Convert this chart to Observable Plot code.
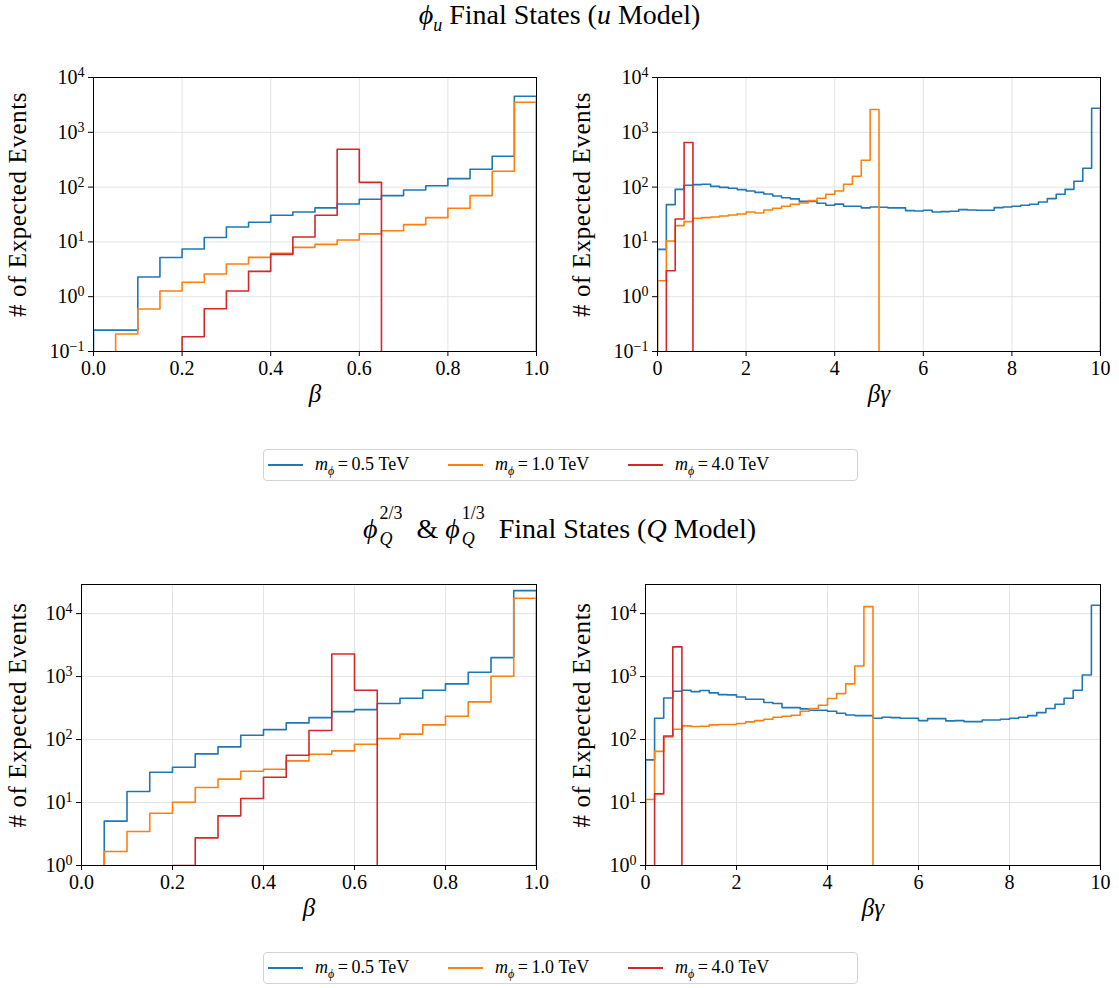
<!DOCTYPE html>
<html><head><meta charset="utf-8">
<script src="https://cdn.jsdelivr.net/npm/d3@7"></script>
<script src="https://cdn.jsdelivr.net/npm/@observablehq/plot@0.6"></script>
<style>
body{margin:0;background:#fff;}
#root{position:relative;width:1119px;height:988px;font-family:"Liberation Serif","DejaVu Serif",serif;color:#000;overflow:hidden;}
#root svg text{font-family:"Liberation Serif","DejaVu Serif",serif !important;}
.title{position:absolute;left:0;width:1119px;text-align:center;font-size:28px;line-height:30px;}
.title sub{font-size:18px;}
.panel{position:absolute;width:550px;}
.legend{position:absolute;left:263px;width:595px;height:32px;border:1px solid #d3d3d3;border-radius:4px;box-sizing:border-box;background:#fff;}
.legend .sw{position:absolute;top:14px;width:35px;height:2px;}
.legend .lt{position:absolute;top:4px;font-size:18px;line-height:20px;white-space:nowrap;}
.legend sub{font-size:12px;}
.ss{display:inline-block;position:relative;width:32px;height:1em;}
.ss .sp{position:absolute;left:2px;top:-12px;font-size:18px;}
.ss .sb{position:absolute;left:2px;top:14px;font-size:18px;font-style:italic;}
[aria-label="x-axis label"] text{font-style:italic;font-size:25px;}
[aria-label="y-axis label"] text{font-size:25px;letter-spacing:0.6px;}
</style>
</head><body><div id="root"></div>
<script>
// ---- bin edges ----
const betaEdges = [0,0.05,0.1,0.15,0.2,0.25,0.3,0.35,0.4,0.45,0.5,0.55,0.6,0.65,0.7,0.75,0.8,0.85,0.9,0.95,1.0];
const bgEdges = [0,0.2,0.4,0.6,0.8,1,1.2,1.4,1.6,1.8,2,2.2,2.4,2.6,2.8,3,3.2,3.4,3.6,3.8,4,4.2,4.4,4.6,4.8,5,5.2,5.4,5.6,5.8,6,6.2,6.4,6.6,6.8,7,7.2,7.4,7.6,7.8,8,8.2,8.4,8.6,8.8,9,9.2,9.4,9.6,9.8,10];

// ---- u model, beta ----
const uBetaM05 = [0.246,0.246,2.29,5.2,7.4,12,18.7,22.8,30.6,35.2,41.7,49.2,60,70,88.8,106,143,212,366,4560];
const uBetaM10 = [0,0.208,0.595,1.27,1.83,2.59,3.95,5.23,6.18,7.96,9.03,10.8,14,16,20.7,27.7,41,70,195,3540];
const uBetaM40 = [0,0,0,0,0.186,0.604,1.27,2.9,5.93,12.3,30.6,491,122,0,0,0,0,0,0,0];
// ---- u model, beta*gamma ----
const uBgM05 = [7.3,47.9,91,108,111,113,103,99,95,90,85,80,75,69,64,61,55,55,50.7,46.6,49,44.7,44.7,41.7,43.4,42.8,41.7,41.7,37.2,36.7,37.8,35.2,35.7,36.2,38.8,38.3,37.8,37.8,42.2,43.4,44.7,46.6,48.6,53.6,61.7,74,91,128,221,2755];
const uBgM10 = [1.96,10.4,19.8,23.4,27,27.7,28.5,29.7,31,32.3,35.2,33.7,38.3,41,44.7,48.6,51.4,56.6,62.5,74,85,113,158,309,2605,0,0,0,0,0,0,0,0,0,0,0,0,0,0,0,0,0,0,0,0,0,0,0,0,0];
const uBgM40 = [0,2.98,26.2,650,0,0,0,0,0,0,0,0,0,0,0,0,0,0,0,0,0,0,0,0,0,0,0,0,0,0,0,0,0,0,0,0,0,0,0,0,0,0,0,0,0,0,0,0,0,0];
// ---- Q model, beta ----
const qBetaM05 = [0,5.06,15,30.3,36.4,59.2,76.5,117,144,184,223,278,299,373,453,607,765,1172,2004,23200];
const qBetaM10 = [0,1.67,3.47,6.77,10.1,17.3,23.5,31.4,33.8,45.8,58.5,66,84.3,104,122,171,235,396,1012,17500];
const qBetaM40 = [0,0,0,0,1.0,2.75,6.14,11.6,25.2,56.4,139,2290,607,0,0,0,0,0,0,0];
// ---- Q model, beta*gamma ----
const qBgM05 = [47.5,218,458,585,607,578,600,551,518,512,475,436,436,387,373,322,322,307,292,292,282,262,246,240,240,218,226,223,218,218,200,215,215,198,200,193,193,205,205,210,218,226,240,268,311,364,453,607,1062,13550];
const qBgM10 = [11.2,65,110,146,165,161,163,171,173,173,180,191,200,210,226,235,243,282,311,351,448,537,765,1476,12900,0,0,0,0,0,0,0,0,0,0,0,0,0,0,0,0,0,0,0,0,0,0,0,0,0];
const qBgM40 = [0,13.7,114,2960,0,0,0,0,0,0,0,0,0,0,0,0,0,0,0,0,0,0,0,0,0,0,0,0,0,0,0,0,0,0,0,0,0,0,0,0,0,0,0,0,0,0,0,0,0,0];

// ---- labels / ticks ----
const massLabels = ["0.5","1.0","4.0"];
const colors = ["#1f77b4","#ff7f0e","#d62728"];
const betaTicks = [0,0.2,0.4,0.6,0.8,1.0];
const bgTicks = [0,2,4,6,8,10];
const yTicksTop = [0.1,1,10,100,1000,10000];
const yTicksBottom = [1,10,100,1000,10000];
const yDomainTop = [0.1,10000];
const yDomainBottom = [1,29000];
const yLabel = "# of Expected Events";

const FLOOR = 1e-4; // zero bins drawn below the frame (clipped), like matplotlib

function stepPoints(edges, vals) {
  const v = vals.map(d => d > 0 ? d : FLOOR);
  const pts = [{x: edges[0], y: FLOOR}];
  for (let i = 0; i < v.length; i++) pts.push({x: edges[i], y: v[i]});
  pts.push({x: edges[edges.length-1], y: v[v.length-1]});
  pts.push({x: edges[edges.length-1], y: FLOOR});
  return pts;
}

function makePanel({edges, series, yDomain, yTicks, xTicks, xFmt, xLabel, marginLeft, marginTop, frameH}) {
  const svg = Plot.plot({
    width: 550, height: marginTop + frameH + 60,
    marginLeft, marginRight: 14, marginTop, marginBottom: 60,
    style: {fontFamily: "Liberation Serif, DejaVu Serif, serif", fontSize: "20px", background: "transparent", overflow: "visible", color: "#000"},
    x: {domain: [edges[0], edges[edges.length-1]]},
    y: {type: "log", domain: yDomain},
    marks: [
      Plot.gridX(xTicks, {stroke: "#e3e3e3", strokeOpacity: 1, strokeWidth: 1}),
      Plot.gridY(yTicks, {stroke: "#e3e3e3", strokeOpacity: 1, strokeWidth: 1}),
      ...series.map((vals, i) => Plot.line(stepPoints(edges, vals), {x: "x", y: "y", curve: "step-after", stroke: colors[i], strokeWidth: 1.6, clip: true})),
      Plot.frame({stroke: "#000", strokeWidth: 1}),
      Plot.axisX({ticks: xTicks, tickFormat: xFmt, tickSize: 5, tickPadding: 4, fontSize: 20, label: xLabel, labelAnchor: "center", labelArrow: "none", labelOffset: 50}),
      Plot.axisY({ticks: yTicks, tickFormat: d => { const e = Math.round(Math.log10(d)); return e < 0 ? "\u2212" + (-e) : String(e); }, tickSize: 5, tickPadding: 4, fontSize: 20, label: yLabel, labelAnchor: "center", labelArrow: "none", labelOffset: marginLeft - 8})
    ]
  });
  const ns = "http://www.w3.org/2000/svg";
  svg.querySelectorAll('[aria-label="y-axis tick label"] text').forEach(t => {
    const e = t.textContent;
    t.textContent = "10";
    const ts = document.createElementNS(ns, "tspan");
    ts.setAttribute("dy", "-0.5em");
    ts.setAttribute("font-size", "14");
    ts.textContent = e;
    t.appendChild(ts);
  });
  const yl = svg.querySelector('[aria-label="y-axis label"]');
  if (yl) yl.setAttribute("transform", "translate(0,-10) " + (yl.getAttribute("transform") || ""));
  return svg;
}

const root = document.getElementById("root");
function place(el, left, top) {
  const d = document.createElement("div");
  d.className = "panel";
  d.style.left = left + "px"; d.style.top = top + "px";
  d.appendChild(el); root.appendChild(d);
}
function addTitle(html, top) {
  const d = document.createElement("div");
  d.className = "title"; d.style.top = top + "px"; d.innerHTML = html; root.appendChild(d);
}
function addLegend(top) {
  const d = document.createElement("div");
  d.className = "legend"; d.style.top = top + "px";
  massLabels.forEach((m, i) => {
    const sw = document.createElement("div");
    sw.className = "sw"; sw.style.left = (4 + 180*i) + "px"; sw.style.background = colors[i];
    d.appendChild(sw);
    const lt = document.createElement("div");
    lt.className = "lt"; lt.style.left = (51 + 180*i) + "px";
    lt.innerHTML = `<i>m</i><sub><i>ϕ</i></sub>&thinsp;=&thinsp;${m} TeV`;
    d.appendChild(lt);
  });
  root.appendChild(d);
}

const fmt1 = d3.format(".1f");
addTitle(`<i>ϕ</i><sub><i>u</i></sub> Final States (<i>u</i> Model)`, 0);
place(makePanel({edges: betaEdges, series: [uBetaM05, uBetaM10, uBetaM40], yDomain: yDomainTop, yTicks: yTicksTop, xTicks: betaTicks, xFmt: fmt1, xLabel: "β", marginLeft: 93, marginTop: 17, frameH: 274}), 0, 60);
place(makePanel({edges: bgEdges, series: [uBgM05, uBgM10, uBgM40], yDomain: yDomainTop, yTicks: yTicksTop, xTicks: bgTicks, xFmt: d => String(d), xLabel: "βγ", marginLeft: 93, marginTop: 17, frameH: 274}), 564, 60);
addLegend(449);
addTitle(`<i>ϕ</i><span class="ss"><span class="sp">2/3</span><span class="sb">Q</span></span> &amp; <i>ϕ</i><span class="ss"><span class="sp">1/3</span><span class="sb">Q</span></span> Final States (<i>Q</i> Model)`, 510);
place(makePanel({edges: betaEdges, series: [qBetaM05, qBetaM10, qBetaM40], yDomain: yDomainBottom, yTicks: yTicksBottom, xTicks: betaTicks, xFmt: fmt1, xLabel: "β", marginLeft: 81, marginTop: 14, frameH: 281}), 0, 570);
place(makePanel({edges: bgEdges, series: [qBgM05, qBgM10, qBgM40], yDomain: yDomainBottom, yTicks: yTicksBottom, xTicks: bgTicks, xFmt: d => String(d), xLabel: "βγ", marginLeft: 81, marginTop: 14, frameH: 281}), 564, 570);
addLegend(952);
</script>
</body></html>
